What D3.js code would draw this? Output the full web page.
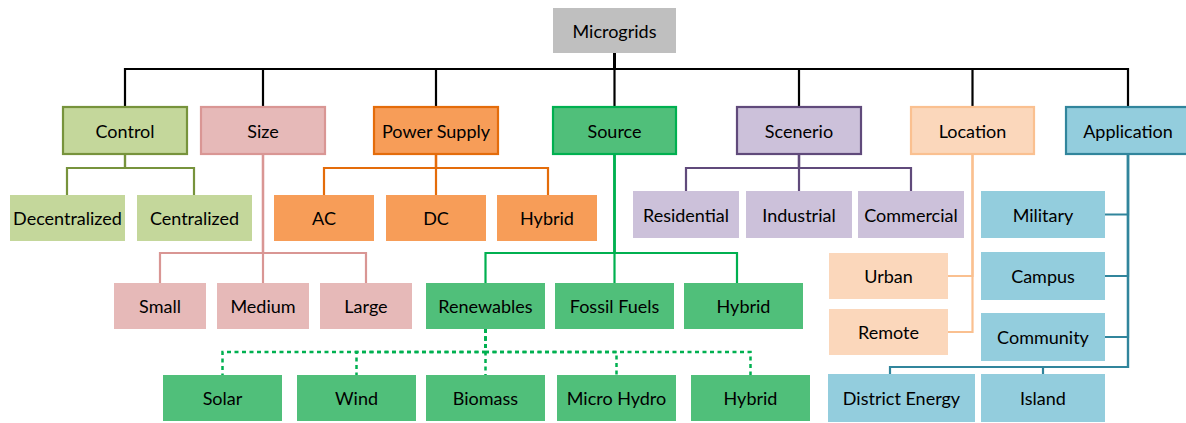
<!DOCTYPE html>
<html>
<head>
<meta charset="utf-8">
<script src="https://cdn.jsdelivr.net/npm/d3@7"></script>
<style>
  html, body { margin: 0; padding: 0; background: #ffffff; }
  svg { display: block; }
  text { font-family: Lato, "Open Sans", sans-serif; font-size: 18px; fill: #000; }
</style>
</head>
<body>
<svg id="chart" width="1186" height="423"></svg>
<script>
// ---- DATA ----
const nodeNames = [
  "Microgrids",
  "Control", "Size", "Power Supply", "Source", "Scenerio", "Location", "Application",
  "Decentralized", "Centralized",
  "Small", "Medium", "Large",
  "AC", "DC", "PS Hybrid",
  "Renewables", "Fossil Fuels", "Src Hybrid",
  "Solar", "Wind", "Biomass", "Micro Hydro", "Ren Hybrid",
  "Residential", "Industrial", "Commercial",
  "Urban", "Remote",
  "Military", "Campus", "Community", "District Energy", "Island"
];
const nodeLabels = [
  "Microgrids",
  "Control", "Size", "Power Supply", "Source", "Scenerio", "Location", "Application",
  "Decentralized", "Centralized",
  "Small", "Medium", "Large",
  "AC", "DC", "Hybrid",
  "Renewables", "Fossil Fuels", "Hybrid",
  "Solar", "Wind", "Biomass", "Micro Hydro", "Hybrid",
  "Residential", "Industrial", "Commercial",
  "Urban", "Remote",
  "Military", "Campus", "Community", "District Energy", "Island"
];
const nodeParents = [
  null,
  "Microgrids", "Microgrids", "Microgrids", "Microgrids", "Microgrids", "Microgrids", "Microgrids",
  "Control", "Control",
  "Size", "Size", "Size",
  "Power Supply", "Power Supply", "Power Supply",
  "Source", "Source", "Source",
  "Renewables", "Renewables", "Renewables", "Renewables", "Renewables",
  "Scenerio", "Scenerio", "Scenerio",
  "Location", "Location",
  "Application", "Application", "Application", "Application", "Application"
];

// ---- LAYOUT (positions / sizes; separate from data) ----
const box = {
  "Microgrids":   [553, 8, 123, 45],
  "Control":      [63, 107, 124, 47],
  "Size":         [201, 107, 124, 47],
  "Power Supply": [374, 107, 124, 47],
  "Source":       [553, 107, 123, 47],
  "Scenerio":     [737, 107, 124, 47],
  "Location":     [911, 107, 123, 47],
  "Application":  [1066, 107, 124, 47],
  "Decentralized":[10, 195, 115, 46],
  "Centralized":  [137, 195, 115, 46],
  "Small":        [114, 283, 92, 46],
  "Medium":       [217, 283, 92, 46],
  "Large":        [320, 283, 92, 46],
  "AC":           [274, 195, 100, 46],
  "DC":           [386, 195, 100, 46],
  "PS Hybrid":    [497, 195, 100, 46],
  "Renewables":   [426, 283, 119, 46],
  "Fossil Fuels": [555, 283, 119, 46],
  "Src Hybrid":   [684, 283, 119, 46],
  "Solar":        [163, 375, 119, 46],
  "Wind":         [297, 375, 119, 46],
  "Biomass":      [426, 375, 119, 46],
  "Micro Hydro":  [557, 375, 119, 46],
  "Ren Hybrid":   [691, 375, 119, 46],
  "Residential":  [633, 191, 106, 47],
  "Industrial":   [746, 191, 106, 47],
  "Commercial":   [858, 191, 106, 47],
  "Urban":        [829, 253, 119, 46],
  "Remote":       [829, 309, 119, 46],
  "Military":     [981, 191, 124, 47],
  "Campus":       [981, 252, 124, 48],
  "Community":    [981, 313, 124, 48],
  "District Energy": [828, 374, 147, 48],
  "Island":       [981, 374, 124, 48]
};
// connector bus levels (y) per parent; side children are attached from the side
const busY = {
  "Microgrids": 69, "Control": 168, "Size": 253, "Power Supply": 168, "Source": 253,
  "Renewables": 352, "Scenerio": 168, "Application": 367
};
// connector drop positions that are not at the child box centre
const dropX = { "Src Hybrid": 737, "District Energy": 890, "Decentralized": 67, "Centralized": 194, "AC": 324, "PS Hybrid": 548 };
const sideChildren = ["Urban", "Remote", "Military", "Campus", "Community"];

const styles = {
  "Microgrids":   { fill: "#bfbfbf", stroke: null, line: "#000000" },
  "Control":      { fill: "#c4d79b", stroke: "#77933c", line: "#77933c" },
  "Size":         { fill: "#e6b9b8", stroke: "#d99694", line: "#d99694" },
  "Power Supply": { fill: "#f79d58", stroke: "#e46c0a", line: "#e46c0a" },
  "Source":       { fill: "#50bf7a", stroke: "#00b050", line: "#00b050" },
  "Scenerio":     { fill: "#ccc1da", stroke: "#604a7b", line: "#604a7b" },
  "Location":     { fill: "#fbd7bb", stroke: "#fac090", line: "#fac090" },
  "Application":  { fill: "#93cddd", stroke: "#31859c", line: "#31859c" }
};

// ---- BUILD HIERARCHY ----
const table = nodeNames.map((n, i) => ({ id: n, parentId: nodeParents[i], label: nodeLabels[i] }));
const root = d3.stratify().id(d => d.id).parentId(d => d.parentId)(table);

function branchOf(node) {
  if (!node.parent) return "Microgrids";
  let n = node;
  while (n.parent && n.parent.parent) n = n.parent;
  return n.id;
}

const svg = d3.select("#chart");
const gLinks = svg.append("g");
const gNodes = svg.append("g");

const bx = n => box[n][0] + box[n][2] / 2;
const bTop = n => box[n][1];
const bBottom = n => box[n][1] + box[n][3];
const bCy = n => box[n][1] + box[n][3] / 2;
const bRight = n => box[n][0] + box[n][2];

// links
root.links().forEach(({ source, target }) => {
  const p = source.id, c = target.id;
  const lineColor = source.depth === 0 ? "#000000" : styles[branchOf(source)].line;
  const dashed = p === "Renewables";
  const path = d3.path();
  const px = bx(p);
  if (sideChildren.includes(c)) {
    path.moveTo(px, bBottom(p));
    path.lineTo(px, bCy(c));
    path.lineTo(bRight(c), bCy(c));
  } else {
    const cxx = dropX[c] !== undefined ? dropX[c] : bx(c);
    path.moveTo(px, bBottom(p));
    path.lineTo(px, busY[p]);
    path.lineTo(cxx, busY[p]);
    path.lineTo(cxx, bTop(c));
  }
  gLinks.append("path")
    .attr("d", path.toString())
    .attr("fill", "none")
    .attr("stroke", lineColor)
    .attr("stroke-width", dashed ? 2.5 : 2.2)
    .attr("stroke-dasharray", dashed ? "4,3.5" : null)
    .attr("stroke-linejoin", "miter");
});

// nodes
root.descendants().forEach(d => {
  const b = box[d.id];
  const st = styles[branchOf(d)];
  const isBranch = d.depth === 1;
  gNodes.append("rect")
    .attr("x", b[0]).attr("y", b[1])
    .attr("width", b[2]).attr("height", b[3])
    .attr("fill", st.fill)
    .attr("stroke", isBranch ? st.stroke : "none")
    .attr("stroke-width", isBranch ? 2.2 : 0);
  gNodes.append("text")
    .attr("x", b[0] + b[2] / 2)
    .attr("y", b[1] + b[3] / 2)
    .attr("text-anchor", "middle")
    .attr("dominant-baseline", "central")
    .text(d.data.label);
});
</script>
</body>
</html>
